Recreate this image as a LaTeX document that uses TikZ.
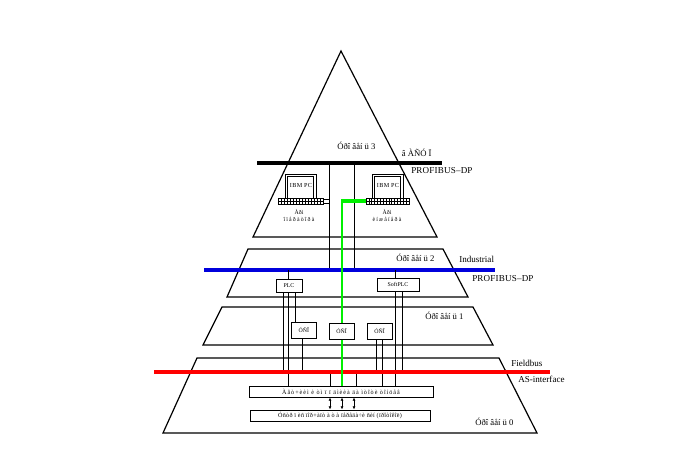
\documentclass[tikz,border=0pt]{standalone}
\usepackage{fontspec}
\setmainfont{Liberation Serif}
\usetikzlibrary{arrows.meta}
\tikzset{
  x=0.75pt,y=-0.75pt,
  ln/.style={draw=black,line width=0.75pt},
  tier/.style={draw=black,line width=0.9pt,line join=miter},
  lab/.style={inner sep=0pt,font=\fontsize{6.8}{7}\selectfont,anchor=west},
  lvl/.style={inner sep=0pt,font=\fontsize{6.5}{7}\selectfont,anchor=west},
  tiny/.style={inner sep=0pt,font=\fontsize{4.4}{5}\selectfont,align=center},
  pcname/.style={inner sep=0pt,font=\fontsize{4.6}{5}\selectfont\addfontfeature{LetterSpace=6}},
  boxn/.style={draw=black,line width=0.75pt,fill=white,inner sep=0pt,font=\fontsize{4.4}{5}\selectfont},
  kbd/.style={draw=black,line width=0.6pt,fill=white,inner sep=0pt,minimum height=4.5pt},
  bus/.style={line cap=butt},
  bidir/.style={line width=0.75pt,{Latex[length=2.4pt,width=2.4pt]}-{Latex[length=2.4pt,width=2.4pt]}}
}
\newcommand{\boxat}[6]{\node[boxn,minimum width=#4*0.75pt,minimum height=#5*0.75pt] (#1) at (#2,#3) {#6};}
\newcommand{\spacedtxt}[1]{{\addfontfeature{LetterSpace=20}#1}}
\begin{document}
\begin{tikzpicture}
\useasboundingbox (0,0) rectangle (678,475);
\fill[white] (0,0) rectangle (678,475);
% tiers
\draw[tier] (341,51) -- (253,237) -- (437,237) -- cycle;
\draw[tier] (248,249) -- (227,297) -- (468,297) -- (443,249) -- cycle;
\draw[tier] (222,307) -- (203,345) -- (493,345) -- (473,307) -- cycle;
\draw[tier] (197,358) -- (163,433) -- (537,433) -- (499,358) -- cycle;
% bus end points
\coordinate (bkL) at (257,163); \coordinate (bkR) at (442,163);
\coordinate (blL) at (204,270); \coordinate (blR) at (495,270);
\coordinate (rdL) at (154,372); \coordinate (rdR) at (550,372);
% vertical links
\draw[ln] (329,163) -- (329,270);
\draw[ln] (354,163) -- (354,270);
% boxes
\boxat{plc}{289}{285.5}{26}{13}{PLC}
\boxat{soft}{398}{284.5}{42}{13}{SoftPLC\hspace{5pt}}
\boxat{usoa}{303.75}{330.25}{24.5}{16}{ÓÑÎ\hspace{3pt}}
\boxat{usob}{341.5}{331}{25}{16}{ÓÑÎ\hspace{1.5pt}}
\boxat{usoc}{379.5}{331}{25}{16}{ÓÑÎ\hspace{3pt}}
\boxat{boxa}{341}{391.5}{184}{11}{\fontsize{4.6}{5}\selectfont\addfontfeature{LetterSpace=16}Àâò+èèì è òì ï ï äìèèà äà ìòîòè òîíöåâ}
\boxat{boxb}{340}{415.5}{180}{11}{\fontsize{4.6}{5}\selectfont\addfontfeature{LetterSpace=5}Óñòð ï èñ ïîð+àïò à ò à ïåðåäà÷è ñèí (ïðîòîêîë)}
% computers
\draw[ln] (285,174) rectangle (316,198);
\draw[ln] (287.5,176.5) rectangle (313.5,198);
\draw[ln] (372,174) rectangle (403,198);
\draw[ln] (374.5,176.5) rectangle (400.5,198);
\node[pcname] (pca) at (301,185) {IBM PC};
\node[pcname] (pcb) at (388,185) {IBM PC};
\node[kbd,minimum width=33.75pt,
  path picture={\foreach \i in {1,...,14}{\draw[line width=0.5pt] ([xshift=\i*2.25pt]path picture bounding box.west) ++(0,-2.25pt) -- ++(0,4.5pt);}\draw[line width=0.5pt] (path picture bounding box.west) -- (path picture bounding box.east);}] (kba) at (300.5,201) {};
\node[kbd,minimum width=32.25pt,
  path picture={\foreach \i in {1,...,14}{\draw[line width=0.5pt] ([xshift=\i*2.15pt]path picture bounding box.west) ++(0,-2.25pt) -- ++(0,4.5pt);}\draw[line width=0.5pt] (path picture bounding box.west) -- (path picture bounding box.east);}] (kbb) at (387.5,201) {};
\node[tiny] (arma) at (299,215.5) {Àðì\\\spacedtxt{îïåðàòîðà}};
\node[tiny] (armb) at (387,215.5) {Àðì\\\spacedtxt{èíæåíåðà}};
\draw[ln] (kba.east |- 0,199.5) -- (329,199.5);
\draw[ln] (kba.east |- 0,203) -- (329,203);
\draw[ln] (354,199) -- (kbb.west |- 0,199);
% buses
\draw[draw=black,line width=3pt,bus] (bkL) -- (bkR);
\draw[draw={rgb,255:red,0;green,0;blue,220},line width=2.4pt,bus] (blL) -- (blR);
% drops from blue bus
\draw[ln] (288,270) -- (plc.north -| 288,0);
\draw[ln] (395.5,270) -- (soft.north -| 395.5,0);
% PLC/SoftPLC lines
\draw[ln] (283,292) -- (283,372);
\draw[ln] (288,292) -- (288,386);
\draw[ln] (295.5,292) -- (295.5,322.25);
\draw[ln] (302,338.25) -- (302,372);
\draw[ln] (376,339) -- (376,372);
\draw[ln] (382,339) -- (382,386);
\draw[ln] (395,291) -- (395,386);
\draw[ln] (402,291) -- (402,372);
\draw[ln] (330,372) -- (330,386);
\draw[ln] (356,372) -- (356,386);
\draw[draw=red,line width=2.4pt,bus] (rdL) -- (rdR);
% green path
\draw[draw={rgb,255:red,0;green,240;blue,0},line width=1.7pt,line join=miter] (342,201) -- (usob.north -| 342,0);
\draw[draw={rgb,255:red,0;green,240;blue,0},line width=2.3pt,line cap=butt] (kbb.west |- 0,201) -- (341.4,201);
\draw[draw={rgb,255:red,0;green,240;blue,0},line width=1.7pt] (usob.south -| 342,0) -- (boxa.north -| 342,0);
% bidirectional arrows
\draw[bidir] (boxa.south -| 330,0) -- (boxb.north -| 330,0);
\draw[bidir] (boxa.south -| 342,0) -- (boxb.north -| 342,0);
\draw[bidir] (boxa.south -| 354,0) -- (boxb.north -| 354,0);
% labels
\node[lvl] (l3) at (337,145.5) {Óðî âåí ü 3};
\node[lvl] (asu) at (401.5,152.5) {â ÀÑÓ Ï};
\node[lab] (p1) at (411,170.5) {\addfontfeature{LetterSpace=2}PROFIBUS–DP};
\node[lvl] (l2) at (396,258) {Óðî âåí ü 2};
\node[lab] (ind) at (459,259.5) {Industrial};
\node[lab] (p2) at (472,279) {\addfontfeature{LetterSpace=2}PROFIBUS–DP};
\node[lvl] (l1) at (425,316) {Óðî âåí ü 1};
\node[lab] (fb) at (511,363) {Fieldbus};
\node[lab] (as) at (518,379.5) {AS-interface};
\node[lvl] (l0) at (475,421.5) {Óðî âåí ü 0};
\end{tikzpicture}
\end{document}
